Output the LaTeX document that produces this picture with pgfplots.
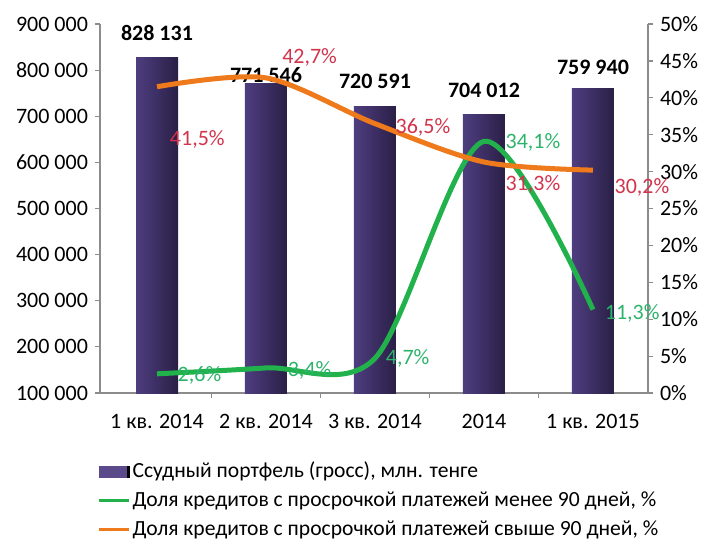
\documentclass[border=0pt]{standalone}
\usepackage{fontspec}
\setmainfont{Carlito}
\usepackage{pgfplots}
\pgfplotsset{compat=1.18}
\definecolor{barL}{HTML}{4E3E80}
\definecolor{barM}{HTML}{7362A4}
\definecolor{barR}{HTML}{2A1F46}
\definecolor{barcol}{HTML}{5A4A8A}
\definecolor{axisgray}{HTML}{8C8C8C}
\definecolor{lgreen}{HTML}{22B24C}
\definecolor{lorange}{HTML}{EE7A1B}
\definecolor{tred}{HTML}{D2344C}
\definecolor{tgreen}{HTML}{2DB36C}
\pgfplotsset{mybar/.style={ybar, bar width=21pt, bar shift=0pt, draw=none, left color=barL, middle color=barM, right color=barR}}
\begin{document}
\begin{tikzpicture}
\begin{axis}[
  scale only axis, width=274pt, height=184.5pt,
  xmin=-0.523, xmax=4.505, ymin=100000, ymax=900000,
  scaled y ticks=false,
  axis x line*=bottom, axis y line*=left,
  axis line style={draw=axisgray, line width=0.75pt, -},
  tick align=outside,
  tick style={draw=axisgray, line width=0.6pt},
  major tick length=2.5pt,
  xtick={0.5,1.5,2.5,3.5}, xticklabels={},
  extra x ticks={0,1,2,3,4},
  extra x tick labels={1 кв. 2014, 2 кв. 2014, 3 кв. 2014, 2014, 1 кв. 2015},
  extra x tick style={major tick length=0pt},
  xticklabel style={yshift=-7pt},
  ytick={100000,200000,300000,400000,500000,600000,700000,800000,900000},
  yticklabels={100 000,200 000,300 000,400 000,500 000,600 000,700 000,800 000,900 000},
  ticklabel style={font=\fontsize{11}{13}\selectfont, text=black},
  /pgf/number format/assume math mode=true,
  clip=false,
]
\addplot[mybar] coordinates {(0,828131)};
\addplot[mybar] coordinates {(1,771546)};
\addplot[mybar] coordinates {(2,720591)};
\addplot[mybar] coordinates {(3,704012)};
\addplot[mybar] coordinates {(4,759940)};
\node[font=\bfseries\fontsize{11}{13}\selectfont] at (axis cs:0,880900) {828 131};
\node[font=\bfseries\fontsize{11}{13}\selectfont] at (axis cs:1,789800) {771 546};
\node[font=\bfseries\fontsize{11}{13}\selectfont] at (axis cs:2,774600) {720 591};
\node[font=\bfseries\fontsize{11}{13}\selectfont] at (axis cs:3,755100) {704 012};
\node[font=\bfseries\fontsize{11}{13}\selectfont] at (axis cs:4,805000) {759 940};
\end{axis}
\begin{axis}[
  scale only axis, width=274pt, height=184.5pt,
  xmin=-0.523, xmax=4.505, ymin=0, ymax=50,
  axis x line=none, axis y line*=right,
  axis line style={draw=axisgray, line width=0.75pt, -},
  tick align=outside,
  tick style={draw=axisgray, line width=0.6pt},
  major tick length=2.5pt,
  ytick={0,5,10,15,20,25,30,35,40,45,50},
  yticklabels={0\%,5\%,10\%,15\%,20\%,25\%,30\%,35\%,40\%,45\%,50\%},
  ticklabel style={font=\fontsize{11}{13}\selectfont, text=black},
  clip=false,
  legend cell align=left,
  legend style={at={(-0.0055,-0.180)}, anchor=north west, draw=none, fill=none,
    font=\fontsize{10.8}{12}\selectfont, row sep=2.4pt, inner sep=0pt,
    nodes={inner sep=1pt, text height=8pt, text depth=2pt}},
]
\addlegendimage{legend image code/.code={\fill[barcol] (0pt,-2.6pt) rectangle (15pt,2.6pt); \fill[black] (14pt,-2.6pt) rectangle (15pt,2.6pt);}}
\addlegendentry{Ссудный портфель (гросс), млн. тенге}
\addplot[lgreen, line width=2.5pt, smooth, legend image code/.code={\draw[lgreen, line width=1.6pt] (0pt,0pt) -- (15pt,0pt);}]
  coordinates {(0,2.6) (1,3.4) (2,4.7) (3,34.1) (4,11.3)};
\addlegendentry{Доля кредитов с просрочкой платежей менее 90 дней, \%}
\addplot[lorange, line width=2.5pt, smooth, legend image code/.code={\draw[lorange, line width=1.6pt] (0pt,0pt) -- (15pt,0pt);}]
  coordinates {(0,41.5) (1,42.7) (2,36.5) (3,31.3) (4,30.2)};
\addlegendentry{Доля кредитов с просрочкой платежей свыше 90 дней, \%}
\begin{scope}[every node/.style={font=\fontsize{11}{13}\selectfont}]
\node[text=tgreen] at (axis cs:0.39,2.4) {2,6\%};
\node[text=tgreen] at (axis cs:1.40,3.1) {3,4\%};
\node[text=tgreen] at (axis cs:2.30,4.7) {4,7\%};
\node[text=tgreen] at (axis cs:3.45,33.9) {34,1\%};
\node[text=tgreen] at (axis cs:4.36,10.8) {11,3\%};
\node[text=tred] at (axis cs:0.37,34.3) {41,5\%};
\node[text=tred] at (axis cs:1.40,45.5) {42,7\%};
\node[text=tred] at (axis cs:2.44,36.0) {36,5\%};
\node[text=tred] at (axis cs:3.45,28.2) {31,3\%};
\node[text=tred] at (axis cs:4.45,27.8) {30,2\%};
\end{scope}
\end{axis}
\pgfresetboundingbox
\path (-50pt,-74.5pt) rectangle (304pt,196.5pt);
\end{tikzpicture}
\end{document}
